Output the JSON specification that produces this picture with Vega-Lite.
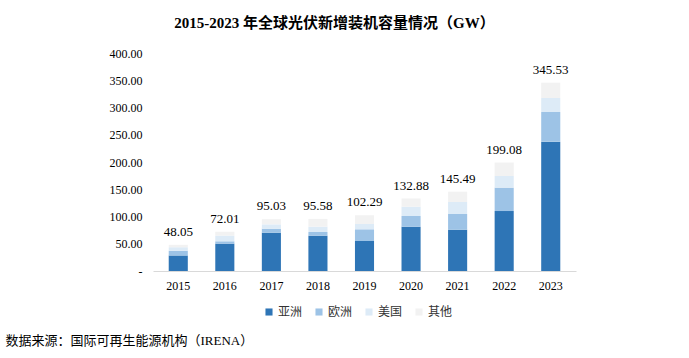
{
  "$schema": "https://vega.github.io/schema/vega-lite/v6.json",
  "autosize": {"type": "none"},
  "width": 423,
  "height": 218,
  "padding": {"left": 153, "top": 53, "right": 113, "bottom": 87},
  "background": "white",
  "config": {"view": {"stroke": null}, "font": "Liberation Serif, Noto Sans CJK SC"},
  "title": {
    "text": "2015-2023 年全球光伏新增装机容量情况（GW）",
    "font": "Liberation Serif, Noto Sans CJK SC",
    "fontSize": 15,
    "fontWeight": "bold",
    "color": "#000000",
    "anchor": "middle",
    "dx": -30,
    "offset": 16
  },
  "datasets": {
    "seg": [
      {"year": "2015", "region": "亚洲", "seq": 1, "value": 28.5},
      {"year": "2015", "region": "欧洲", "seq": 2, "value": 8.6},
      {"year": "2015", "region": "美国", "seq": 3, "value": 6.5},
      {"year": "2015", "region": "其他", "seq": 4, "value": 4.45},
      {"year": "2016", "region": "亚洲", "seq": 1, "value": 50.2},
      {"year": "2016", "region": "欧洲", "seq": 2, "value": 4.3},
      {"year": "2016", "region": "美国", "seq": 3, "value": 10.5},
      {"year": "2016", "region": "其他", "seq": 4, "value": 7.01},
      {"year": "2017", "region": "亚洲", "seq": 1, "value": 70.3},
      {"year": "2017", "region": "欧洲", "seq": 2, "value": 7.3},
      {"year": "2017", "region": "美国", "seq": 3, "value": 8.0},
      {"year": "2017", "region": "其他", "seq": 4, "value": 9.43},
      {"year": "2018", "region": "亚洲", "seq": 1, "value": 64.8},
      {"year": "2018", "region": "欧洲", "seq": 2, "value": 6.8},
      {"year": "2018", "region": "美国", "seq": 3, "value": 9.7},
      {"year": "2018", "region": "其他", "seq": 4, "value": 14.28},
      {"year": "2019", "region": "亚洲", "seq": 1, "value": 55.0},
      {"year": "2019", "region": "欧洲", "seq": 2, "value": 21.5},
      {"year": "2019", "region": "美国", "seq": 3, "value": 9.7},
      {"year": "2019", "region": "其他", "seq": 4, "value": 16.09},
      {"year": "2020", "region": "亚洲", "seq": 1, "value": 81.3},
      {"year": "2020", "region": "欧洲", "seq": 2, "value": 19.6},
      {"year": "2020", "region": "美国", "seq": 3, "value": 17.1},
      {"year": "2020", "region": "其他", "seq": 4, "value": 14.88},
      {"year": "2021", "region": "亚洲", "seq": 1, "value": 75.8},
      {"year": "2021", "region": "欧洲", "seq": 2, "value": 28.8},
      {"year": "2021", "region": "美国", "seq": 3, "value": 22.0},
      {"year": "2021", "region": "其他", "seq": 4, "value": 18.89},
      {"year": "2022", "region": "亚洲", "seq": 1, "value": 110.0},
      {"year": "2022", "region": "欧洲", "seq": 2, "value": 42.9},
      {"year": "2022", "region": "美国", "seq": 3, "value": 21.4},
      {"year": "2022", "region": "其他", "seq": 4, "value": 24.78},
      {"year": "2023", "region": "亚洲", "seq": 1, "value": 237.3},
      {"year": "2023", "region": "欧洲", "seq": 2, "value": 54.4},
      {"year": "2023", "region": "美国", "seq": 3, "value": 25.7},
      {"year": "2023", "region": "其他", "seq": 4, "value": 28.13}
    ],
    "tot": [
      {"year": "2015", "total": 48.05},
      {"year": "2016", "total": 72.01},
      {"year": "2017", "total": 95.03},
      {"year": "2018", "total": 95.58},
      {"year": "2019", "total": 102.29},
      {"year": "2020", "total": 132.88},
      {"year": "2021", "total": 145.49},
      {"year": "2022", "total": 199.08},
      {"year": "2023", "total": 345.53}
    ]
  },
  "encoding": {
    "x": {
      "field": "year",
      "type": "ordinal",
      "scale": {"paddingInner": 0.59, "paddingOuter": 0.3375},
      "axis": {
        "title": "数据来源：国际可再生能源机构（IRENA）",
        "titleFont": "Liberation Serif, Noto Sans CJK SC",
        "titleFontSize": 13,
        "titleFontWeight": "normal",
        "titleColor": "#000000",
        "titleAlign": "left",
        "titleBaseline": "middle",
        "titleAnchor": "start",
        "titleX": -148,
        "titleY": 69,
        "labelAngle": 0,
        "labelFont": "Liberation Serif",
        "labelFontSize": 12,
        "labelColor": "#000000",
        "labelPadding": 9,
        "ticks": false,
        "domainColor": "#D9D9D9",
        "grid": false
      }
    }
  },
  "layer": [
    {
      "data": {"name": "seg"},
      "mark": {"type": "bar"},
      "encoding": {
        "y": {
          "field": "value",
          "type": "quantitative",
          "aggregate": "sum",
          "stack": "zero",
          "scale": {"domain": [0, 400], "nice": false},
          "axis": {
            "title": null,
            "values": [0, 50, 100, 150, 200, 250, 300, 350, 400],
            "labelExpr": "datum.value == 0 ? '-' : format(datum.value, '.2f')",
            "labelOverlap": false,
            "labelFont": "Liberation Serif",
            "labelFontSize": 12,
            "labelColor": "#000000",
            "labelPadding": 11,
            "ticks": false,
            "domain": false,
            "grid": false
          }
        },
        "color": {
          "field": "region",
          "type": "nominal",
          "scale": {
            "domain": ["亚洲", "欧洲", "美国", "其他"],
            "range": ["#2E75B6", "#9DC3E6", "#DDEBF7", "#F2F2F2"]
          },
          "legend": {
            "title": null,
            "orient": "none",
            "direction": "horizontal",
            "legendX": 110,
            "legendY": 253,
            "symbolType": "square",
            "symbolSize": 50,
            "symbolStrokeWidth": 0,
            "labelFont": "Noto Sans CJK SC",
            "labelFontSize": 12,
            "labelColor": "#333333",
            "columnPadding": 10,
            "labelOffset": 3
          }
        },
        "order": {"field": "seq", "type": "quantitative", "sort": "ascending"}
      }
    },
    {
      "data": {"name": "tot"},
      "mark": {"type": "text", "baseline": "bottom", "dy": -6, "font": "Liberation Serif", "fontSize": 13, "color": "#000000"},
      "encoding": {
        "y": {
          "field": "total",
          "type": "quantitative",
          "scale": {"domain": [0, 400], "nice": false},
          "axis": {
            "title": null,
            "values": [0, 50, 100, 150, 200, 250, 300, 350, 400],
            "labelExpr": "datum.value == 0 ? '-' : format(datum.value, '.2f')",
            "labelOverlap": false,
            "labelFont": "Liberation Serif",
            "labelFontSize": 12,
            "labelColor": "#000000",
            "labelPadding": 11,
            "ticks": false,
            "domain": false,
            "grid": false
          }
        },
        "text": {"field": "total", "type": "quantitative", "format": ".2f"}
      }
    }
  ]
}
